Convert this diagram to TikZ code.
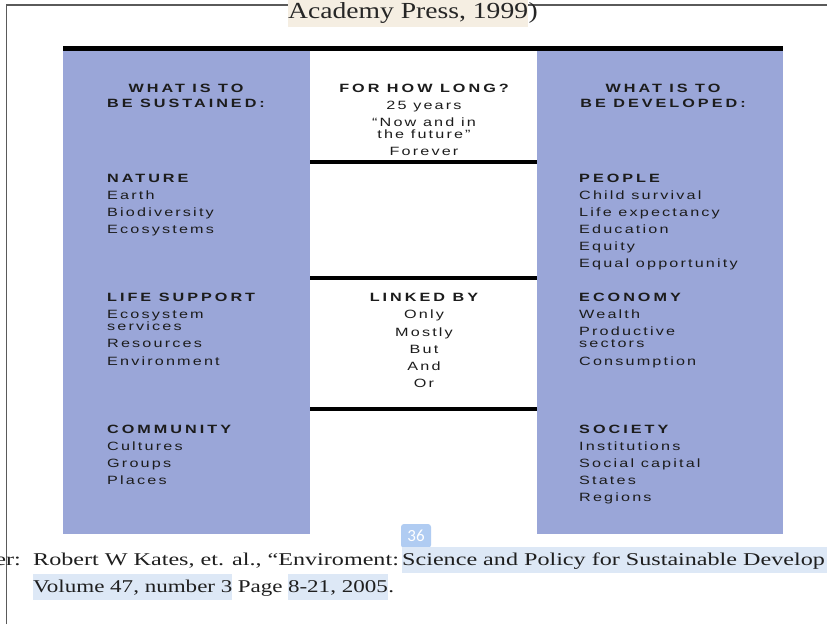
\documentclass[tikz,border=0pt]{standalone}
\usepackage{fontspec}
\newfontfamily\hvreg[FakeStretch=1.35,LetterSpace=18]{Liberation Sans}
\newfontfamily\hvbold[FakeStretch=1.35,LetterSpace=25]{Liberation Sans Bold}
\newfontfamily\serifhdr[FakeStretch=1.2]{Liberation Serif}
\newfontfamily\seriffoot[FakeStretch=1.28]{Liberation Serif}
\newfontfamily\seriffootwide[FakeStretch=1.34]{Liberation Serif}
\newfontfamily\badgefont{Carlito}
\definecolor{colblue}{RGB}{154,166,216}
\definecolor{txt}{RGB}{28,28,28}
\definecolor{beigehl}{RGB}{245,238,226}
\definecolor{bluehl}{RGB}{221,232,246}
\definecolor{badgeblue}{RGB}{176,204,242}
\definecolor{bordergray}{RGB}{90,90,90}
\begin{document}
\begin{tikzpicture}[x=1pt,y=-1pt,
  body/.style={font=\hvreg\fontsize{12}{14}\selectfont, text=txt, inner sep=0pt, anchor=base west},
  head/.style={font=\hvbold\fontsize{12}{14}\selectfont, text=txt, inner sep=0pt, anchor=base west},
  midtext/.style={body, anchor=base},
  midhead/.style={head, anchor=base},
  bar/.style={fill=black},
  hdr/.style={font=\serifhdr\fontsize{23}{26}\selectfont, text=black!85, inner sep=0pt, anchor=base west},
  ft/.style={font=\seriffoot\fontsize{18}{22}\selectfont, text=black!88, inner sep=0pt, anchor=base west},
  ftw/.style={ft, font=\seriffootwide\fontsize{18}{22}\selectfont},
  hlbox/.style={text height=18pt, text depth=8pt}
]
\useasboundingbox (0,0) rectangle (827,624);
\clip (0,0) rectangle (827,624);
\fill[white] (0,0) rectangle (827,624);

% page border
\draw[bordergray, line width=1.5pt] (6.5,624) -- (6.5,5) -- (827,5);

% header
\node[hdr, fill=beigehl, text height=18pt, text depth=9pt] (h1) at (288,18) {Academy Press, 1999};
\node[hdr, anchor=base west] (h2) at (h1.base east) {)};

% columns
\fill[colblue] (63,51) rectangle (310,534);
\fill[colblue] (537,51) rectangle (783,534);
\fill[bar] (63,46) rectangle (783,51);
\fill[bar] (310,160) rectangle (537,164);
\fill[bar] (310,276) rectangle (537,280);
\fill[bar] (310,407) rectangle (537,411);

% left column
\node[midhead] (lt1) at (186,92) {WHAT IS TO};
\node[midhead] (lt2) at (186,107.5) {BE SUSTAINED:};
\node[head] (nat) at (107,182) {NATURE};
\foreach \t/\y in {Earth/199, Biodiversity/216, Ecosystems/233}
  \node[body] (l-\y) at (107,\y) {\t};
\node[head] (lif) at (107,301) {LIFE SUPPORT};
\foreach \t/\y in {Ecosystem/318, services/330, Resources/347, Environment/365}
  \node[body] (l-\y) at (107,\y) {\t};
\node[head] (com) at (107,433) {COMMUNITY};
\foreach \t/\y in {Cultures/450, Groups/467, Places/484}
  \node[body] (l-\y) at (107,\y) {\t};

% middle column
\node[midhead] (m1) at (424,92) {FOR HOW LONG?};
\node[midtext] (m2) at (424,109) {25 years};
\node[midtext] (m3) at (424,126) {“Now and in};
\node[midtext] (m4) at (424,138) {the future”};
\node[midtext] (m5) at (424,155) {Forever};
\node[midhead] (lk) at (424,301) {LINKED BY};
\foreach \t/\y in {Only/318, Mostly/336, But/353, And/370, Or/387}
  \node[midtext] (m-\y) at (424,\y) {\t};

% right column
\node[midhead] (rt1) at (663,92) {WHAT IS TO};
\node[midhead] (rt2) at (663,107.5) {BE DEVELOPED:};
\node[head] (peo) at (579,182) {PEOPLE};
\foreach \t/\y in {Child survival/199, Life expectancy/216, Education/233, Equity/250, Equal opportunity/267}
  \node[body] (r-\y) at (579,\y) {\t};
\node[head] (eco) at (579,301) {ECONOMY};
\foreach \t/\y in {Wealth/318, Productive/335, sectors/347, Consumption/365}
  \node[body] (r-\y) at (579,\y) {\t};
\node[head] (soc) at (579,433) {SOCIETY};
\foreach \t/\y in {Institutions/450, Social capital/467, States/484, Regions/501}
  \node[body] (r-\y) at (579,\y) {\t};

% page number badge
\node[fill=badgeblue, rounded corners=3pt, minimum width=30pt, minimum height=24pt, inner sep=0pt,
      text=white, font=\badgefont\fontsize{17}{19}\selectfont] (pg) at (416,536) {36};

% footer
\coordinate (edge) at (830,0);
\node[ftw, anchor=base east] (f0) at (21,565) {er:};
\node[ftw] (f1) at (33,565) {Robert W Kates, et. al., “Enviroment:};
\node[ftw, hlbox] (f2) at (402,565) {\phantom{S}};
\fill[bluehl] (f2.south west) rectangle (f2.north east -| edge);
\node[ftw] (f2t) at (f2.base west) {Science and Policy for Sustainable Develop};
\node[ft, hlbox, fill=bluehl] (g1) at (33,592) {Volume 47, number 3};
\node[ft] (g2) at ([xshift=5pt]g1.base east) {Page};
\node[ft, hlbox, fill=bluehl] (g3) at ([xshift=5pt]g2.base east) {8-21, 2005};
\node[ft] (g4) at (g3.base east) {.};
\end{tikzpicture}
\end{document}
